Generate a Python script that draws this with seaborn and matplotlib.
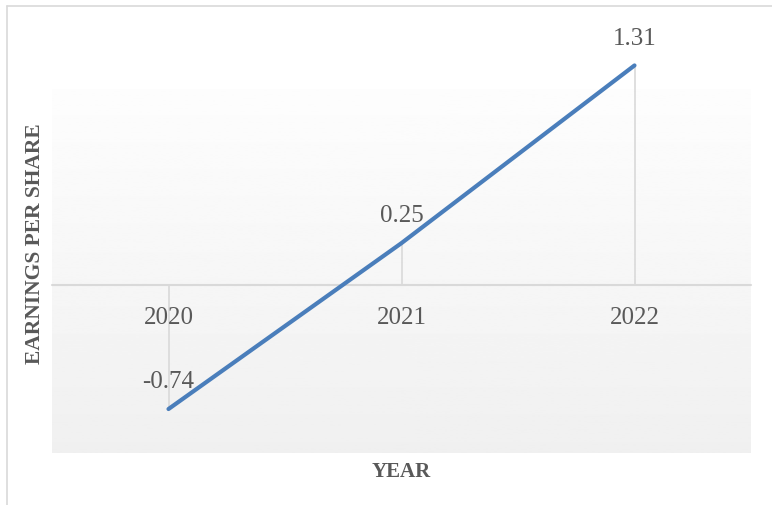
import numpy as np
import pandas as pd
import seaborn as sns
import matplotlib.pyplot as plt
from matplotlib.lines import Line2D

# chart data
years = ["2020", "2021", "2022"]
eps = [-0.74, 0.25, 1.31]

df = pd.DataFrame({"pos": range(len(years)), "eps": eps})

sns.set_style("white")
plt.rcParams["font.family"] = ["Liberation Serif", "DejaVu Serif"]

fig = plt.figure(figsize=(7.72, 5.06), dpi=100)
W, H = 772, 506
# axes placed in pixel coordinates (plot area)
x0, x1, ytop, ybot = 52, 751, 90, 454
ax = fig.add_axes([x0 / W, 1 - ybot / H, (x1 - x0) / W, (ybot - ytop) / H])

# y scale: zero at 286 px, 167.6 px per unit
zero_px, ppu = 286, 167.6
ax.set_ylim(-(ybot - zero_px) / ppu, (zero_px - ytop) / ppu)
ax.set_xlim(-0.5, len(years) - 0.5)

# gradient background of plot area
grad = np.linspace(0.992, 0.94, 256).reshape(-1, 1)
ax.imshow(grad, cmap="gray", vmin=0, vmax=1, aspect="auto",
          extent=[-0.5, len(years) - 0.5, ax.get_ylim()[0], ax.get_ylim()[1]],
          origin="upper", zorder=0)

gray_line = "#d9d9d9"
ax.axhline(0, color=gray_line, lw=1.5, zorder=1)
ax.vlines(df["pos"], 0, df["eps"], color=gray_line, lw=1.2, zorder=1, clip_on=False)

sns.lineplot(data=df, x="pos", y="eps", ax=ax, color="#4a7ebb", lw=3,
             zorder=3, clip_on=False)
for ln in ax.lines:
    ln.set_clip_on(False)
    ln.set_solid_capstyle("round")

text_c = "#595959"
for p, v in zip(df["pos"], eps):
    ax.annotate(f"{v:.2f}", (p, v), xytext=(0, 12), textcoords="offset points",
                ha="center", va="bottom", fontsize=18, color=text_c,
                annotation_clip=False)

# category labels sit just below the zero line
for p, lab in zip(df["pos"], years):
    ax.annotate(lab, (p, 0), xytext=(0, -15), textcoords="offset points",
                ha="center", va="top", fontsize=18, color=text_c,
                annotation_clip=False)

ax.set_xticks([])
ax.set_yticks([])
for s in ax.spines.values():
    s.set_visible(False)
ax.set_xlabel("")
ax.set_ylabel("")

fig.text(401 / W, 1 - 472 / H, "YEAR", ha="center", va="center",
         fontsize=15, fontweight="bold", color=text_c)
fig.text(35 / W, 1 - 244 / H, "EARNINGS PER SHARE", ha="center", va="center",
         rotation=90, fontsize=15.5, fontweight="bold", color=text_c)

# chart border (left and top edges visible)
fig.add_artist(Line2D([7 / W, 7 / W], [0, 1 - 7 / H], color=gray_line, lw=1.2,
                      transform=fig.transFigure))
fig.add_artist(Line2D([7 / W, 1], [1 - 7 / H, 1 - 7 / H], color=gray_line, lw=1.2,
                      transform=fig.transFigure))

fig.savefig("out.png", dpi=100)
